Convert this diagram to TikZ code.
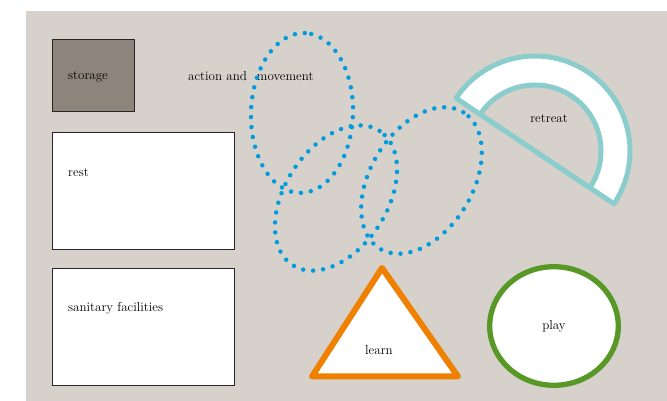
\documentclass[tikz,border=0pt]{standalone}
\usepackage{tikz}
\usetikzlibrary{positioning, shapes.geometric, calc}

\definecolor{zonebg}{RGB}{214,209,203}
\definecolor{storagefill}{RGB}{141,132,123}
\definecolor{movedots}{RGB}{0,156,222}
\definecolor{retreatteal}{RGB}{138,205,204}
\definecolor{learnorange}{RGB}{240,128,0}
\definecolor{playgreen}{RGB}{88,152,38}

\begin{document}
\begin{tikzpicture}[
        x=1pt, y=1pt,
        font=\fontsize{13}{15}\selectfont,
        text=black,
        area/.style={draw=black!85, line width=0.9pt, anchor=north west, inner sep=0pt},
        lbl/.style={anchor=west, inner sep=0pt},
        dots/.style={draw=movedots, line width=4.5pt, line cap=round, dash pattern=on 0pt off 10pt},
        ring/.style={draw=retreatteal, line width=5pt, line join=round}
        ]
        \useasboundingbox (0,0) rectangle (667,401);
        \fill[zonebg] (26,0) rectangle (667,390);
        % boxes on the left
        \node[area, fill=storagefill, minimum width=82pt, minimum height=72pt] (storage) at (52,362) {};
        \node[area, fill=white, minimum width=182pt, minimum height=117pt] (rest) at (52,269) {};
        \node[area, fill=white, minimum width=182pt, minimum height=117pt] (sanitary) at (52,133) {};
        \node[lbl] (storagetxt) at ([xshift=16pt, yshift=-38pt]storage.north west) {storage};
        \node[lbl] (resttxt) at ([xshift=16pt, yshift=-41pt]rest.north west) {rest};
        \node[lbl] (sanitarytxt) at ([xshift=16pt, yshift=-40pt]sanitary.north west) {sanitary facilities};
        % retreat ring
        \coordinate (rc) at (535,250);
        \draw[ring, fill=white] ($(rc)+(146.2:95)$) arc[start angle=146.2, end angle=-33.8, radius=95] -- cycle;
        \draw[ring, fill=zonebg] ($(rc)+(146.2:66)$) arc[start angle=146.2, end angle=-33.8, radius=66] -- cycle;
        \node (retreat) at (549,282) {retreat};
        % action and movement
        \node[lbl] (action) at (188,325) {action and\hspace{10pt}movement};
        \coordinate (e1) at (302,288);
        \coordinate (e2) at (336,203);
        \coordinate (e3) at (421.5,220.5);
        \draw[dots, rotate around={88:(e1)}] (e1) ellipse[x radius=80, y radius=51];
        \draw[dots, rotate around={57:(e2)}] (e2) ellipse[x radius=80, y radius=51];
        \draw[dots, rotate around={58.5:(e3)}] (e3) ellipse[x radius=80, y radius=51];
        % learn
        \coordinate (tA) at (382,133);
        \coordinate (tL) at (312,24.5);
        \coordinate (tR) at (458,24.5);
        \draw[draw=learnorange, line width=6pt, line join=round, fill=white] (tA) -- (tL) -- (tR) -- cycle;
        \node (learn) at (379,51) {learn};
        % play
        \node[ellipse, draw=playgreen, line width=5.3pt, fill=white, minimum width=128.6pt, minimum height=118.6pt] (play) at (554,75) {play};
    \end{tikzpicture}
\end{document}
